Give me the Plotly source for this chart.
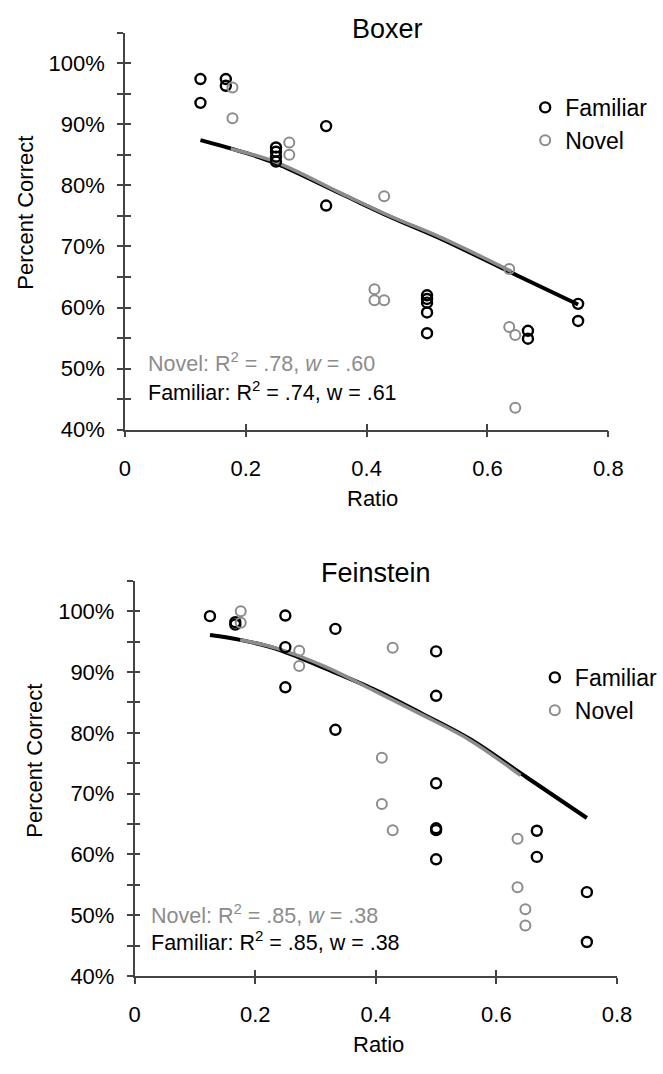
import plotly.graph_objects as go

# ---------------- data ----------------
boxer_fam_x = [0.125, 0.125, 0.167, 0.167, 0.25, 0.25, 0.25, 0.25, 0.333, 0.333,
               0.5, 0.5, 0.5, 0.5, 0.5, 0.667, 0.667, 0.75, 0.75]
boxer_fam_y = [97.4, 93.5, 97.4, 96.3, 86.2, 85.5, 84.7, 83.9, 89.7, 76.7,
               62.0, 61.4, 60.8, 59.2, 55.8, 56.2, 54.9, 60.6, 57.8]
boxer_nov_x = [0.178, 0.178, 0.272, 0.272, 0.429, 0.413, 0.413, 0.429,
               0.636, 0.636, 0.646, 0.646]
boxer_nov_y = [96.0, 91.0, 87.0, 85.0, 78.2, 63.0, 61.2, 61.2,
               66.3, 56.8, 55.5, 43.6]
boxer_fam_fit_x = [0.125, 0.2, 0.25, 0.36, 0.44, 0.52, 0.65, 0.75]
boxer_fam_fit_y = [87.4, 85.3, 83.6, 78.5, 74.8, 71.4, 65.2, 60.5]
boxer_nov_fit_x = [0.175, 0.25, 0.36, 0.44, 0.52, 0.64]
boxer_nov_fit_y = [86.0, 83.8, 78.6, 74.9, 71.6, 65.9]

fein_fam_x = [0.125, 0.167, 0.167, 0.25, 0.25, 0.25, 0.333, 0.333,
              0.5, 0.5, 0.5, 0.5, 0.5, 0.5, 0.667, 0.667, 0.75, 0.75]
fein_fam_y = [99.2, 98.2, 97.8, 99.3, 94.1, 87.5, 97.1, 80.5,
              93.4, 86.1, 71.7, 64.3, 64.0, 59.2, 63.9, 59.6, 53.8, 45.6]
fein_nov_x = [0.176, 0.176, 0.273, 0.273, 0.428, 0.41, 0.41, 0.428,
              0.635, 0.635, 0.648, 0.648]
fein_nov_y = [100.0, 98.1, 93.5, 91.0, 94.0, 75.9, 68.3, 64.0,
              62.6, 54.6, 51.0, 48.3]
fein_fam_fit_x = [0.125, 0.175, 0.236, 0.316, 0.396, 0.476, 0.556, 0.65, 0.75]
fein_fam_fit_y = [96.1, 95.3, 93.8, 90.6, 87.2, 83.2, 79.0, 72.7, 66.0]
fein_nov_fit_x = [0.175, 0.236, 0.316, 0.396, 0.476, 0.556, 0.64]
fein_nov_fit_y = [95.3, 93.9, 90.9, 87.0, 83.0, 78.8, 73.0]

x_tickvals = [0, 0.2, 0.4, 0.6, 0.8]
x_ticktext = ["0", "0.2", "0.4", "0.6", "0.8"]
y_tickvals = [40, 45, 50, 55, 60, 65, 70, 75, 80, 85, 90, 95, 100, 105]
y_ticktext = ["40%", "", "50%", "", "60%", "", "70%", "", "80%", "", "90%", "", "100%", ""]

titles = ["Boxer", "Feinstein"]
novel_stats = ["Novel: R<sup>2</sup> = .78, <i>w</i> = .60", "Novel: R<sup>2</sup> = .85, <i>w</i> = .38"]
fam_stats = ["Familiar: R<sup>2</sup> = .74, w = .61", "Familiar: R<sup>2</sup> = .85, w = .38"]

# ---------------- style ----------------
W, H = 663, 1074
FONT = "Liberation Sans, Arial, Helvetica, sans-serif"
BLACK = "#000000"
GRAY = "#8c8c8c"
AX = "#444444"

fig = go.Figure()

panels = [
    dict(xa="x", ya="y", xi="x3", yi="y3", leg="legend",
         fam=(boxer_fam_x, boxer_fam_y), nov=(boxer_nov_x, boxer_nov_y),
         famfit=(boxer_fam_fit_x, boxer_fam_fit_y), novfit=(boxer_nov_fit_x, boxer_nov_fit_y)),
    dict(xa="x2", ya="y2", xi="x4", yi="y4", leg="legend2",
         fam=(fein_fam_x, fein_fam_y), nov=(fein_nov_x, fein_nov_y),
         famfit=(fein_fam_fit_x, fein_fam_fit_y), novfit=(fein_nov_fit_x, fein_nov_fit_y)),
]

for p in panels:
    fig.add_trace(go.Scatter(x=p["famfit"][0], y=p["famfit"][1], mode="lines",
                             line=dict(color=BLACK, width=4, shape="spline"),
                             xaxis=p["xa"], yaxis=p["ya"], showlegend=False, hoverinfo="skip"))
    fig.add_trace(go.Scatter(x=p["novfit"][0], y=p["novfit"][1], mode="lines",
                             line=dict(color=GRAY, width=3.5, shape="spline"),
                             xaxis=p["xa"], yaxis=p["ya"], showlegend=False, hoverinfo="skip"))
    fig.add_trace(go.Scatter(x=p["fam"][0], y=p["fam"][1], mode="markers", name="Familiar",
                             marker=dict(symbol="circle-open", size=10, color=BLACK,
                                         line=dict(width=2.4, color=BLACK)),
                             xaxis=p["xa"], yaxis=p["ya"], legend=p["leg"]))
    fig.add_trace(go.Scatter(x=p["nov"][0], y=p["nov"][1], mode="markers", name="Novel",
                             marker=dict(symbol="circle-open", size=10, color=GRAY,
                                         line=dict(width=2, color=GRAY)),
                             xaxis=p["xa"], yaxis=p["ya"], legend=p["leg"]))
    # placeholders so the inner-tick overlay axes are drawn
    fig.add_trace(go.Scatter(x=[None], y=[None], xaxis=p["xi"], yaxis=p["ya"],
                             showlegend=False, hoverinfo="skip"))
    fig.add_trace(go.Scatter(x=[None], y=[None], xaxis=p["xa"], yaxis=p["yi"],
                             showlegend=False, hoverinfo="skip"))

# domains in paper coords (pixel-derived)
top_x = [123 / W, 623 / W]
top_y = [1 - 435 / H, 1 - 33 / H]
bot_x = [133 / W, 632 / W]
bot_y = [1 - 988 / H, 1 - 588 / H]

def xaxis_common(domain, anchor, ticks, labels):
    return dict(domain=domain, anchor=anchor, range=[0, 0.8], tickmode="array",
                tickvals=x_tickvals, ticktext=x_ticktext, showticklabels=labels,
                ticks=ticks, ticklen=6, tickwidth=1.5, tickcolor=AX, ticklabelstandoff=12,
                showline=True, linecolor=AX, linewidth=1.5, showgrid=False, zeroline=False,
                tickfont=dict(family=FONT, size=22, color=BLACK), fixedrange=True)

def yaxis_common(domain, anchor, ticks, labels):
    return dict(domain=domain, anchor=anchor, range=[40, 105], tickmode="array",
                tickvals=y_tickvals, ticktext=y_ticktext, showticklabels=labels,
                ticks=ticks, ticklen=6, tickwidth=1.5, tickcolor=AX, ticklabelstandoff=8,
                showline=True, linecolor=AX, linewidth=1.5, showgrid=False, zeroline=False,
                tickfont=dict(family=FONT, size=22, color=BLACK), fixedrange=True)

xa1 = xaxis_common(top_x, "y", "outside", True)
xa2 = xaxis_common(bot_x, "y2", "outside", True)
xa3 = xaxis_common(top_x, "y", "inside", False)
xa3["overlaying"] = "x"
xa4 = xaxis_common(bot_x, "y2", "inside", False)
xa4["overlaying"] = "x2"

ya1 = yaxis_common(top_y, "x", "outside", True)
ya2 = yaxis_common(bot_y, "x2", "outside", True)
ya3 = yaxis_common(top_y, "x", "inside", False)
ya3["overlaying"] = "y"
ya4 = yaxis_common(bot_y, "x2", "inside", False)
ya4["overlaying"] = "y2"

def ann(text, x, y, size, color=BLACK, xanchor="center", angle=0):
    return dict(text=text, x=x / W, y=1 - y / H, xref="paper", yref="paper",
                xanchor=xanchor, yanchor="middle", textangle=angle, showarrow=False,
                font=dict(family=FONT, size=size, color=color))

annotations = [
    ann(titles[0], 395, 29, 27),
    ann(titles[1], 383, 580, 27),
    ann("Percent Correct", 20, 215, 22, angle=-90),
    ann("Percent Correct", 30, 770, 22, angle=-90),
    ann("Ratio", 379, 505, 22),
    ann("Ratio", 385, 1057, 22),
    ann(novel_stats[0], 145, 366, 21.5, GRAY, "left"),
    ann(fam_stats[0], 145, 396, 21.5, BLACK, "left"),
    ann(novel_stats[1], 148, 925, 21.5, GRAY, "left"),
    ann(fam_stats[1], 148, 953, 21.5, BLACK, "left"),
]

fig.update_layout(
    width=W, height=H, margin=dict(l=0, r=0, t=0, b=0),
    paper_bgcolor="white", plot_bgcolor="white",
    xaxis=xa1, xaxis2=xa2, xaxis3=xa3, xaxis4=xa4,
    yaxis=ya1, yaxis2=ya2, yaxis3=ya3, yaxis4=ya4,
    annotations=annotations,
    legend=dict(x=537 / W, y=1 - 87 / H, xanchor="left", yanchor="top",
                font=dict(family=FONT, size=23, color=BLACK), bgcolor="rgba(0,0,0,0)",
                itemsizing="trace"),
    legend2=dict(x=547 / W, y=1 - 664 / H, xanchor="left", yanchor="top",
                 font=dict(family=FONT, size=23, color=BLACK), bgcolor="rgba(0,0,0,0)",
                 itemsizing="trace"),
    showlegend=True,
)

fig.write_html("out.html")
